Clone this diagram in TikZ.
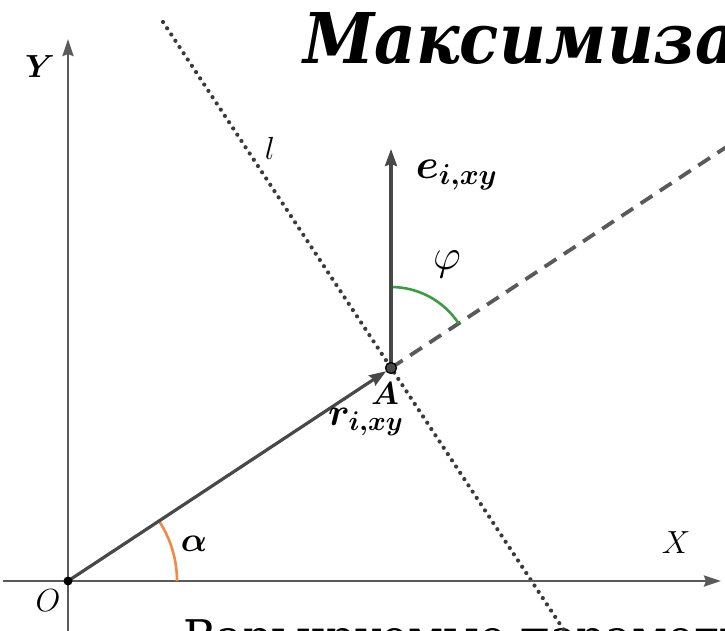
\documentclass[tikz,border=0pt]{standalone}
\usepackage{fontspec}
\usepackage{graphicx}
\usepackage{bm}
\usetikzlibrary{arrows.meta}
\newfontfamily\titlefont[FakeStretch=0.92]{DejaVu Serif}
\newfontfamily\bottomfont{DejaVu Serif}
\definecolor{axisgray}{HTML}{5A5A5A}
\definecolor{vecgray}{HTML}{484848}
\definecolor{dotgray}{HTML}{3A3A3A}
\definecolor{arcorange}{HTML}{F28A45}
\definecolor{arcgreen}{HTML}{3E9B45}
\newcommand{\biglbl}[2][1.85]{\scalebox{#1}{\LARGE #2}}
\tikzset{
  axisline/.style={draw=axisgray, line width=2.6pt, -{Stealth[length=17pt,width=11pt,inset=2pt]}},
  vecline/.style={draw=vecgray, line width=3.2pt, -{Stealth[length=17pt,width=12pt,inset=2pt]}},
  dottedline/.style={draw=dotgray, line width=4.2pt, line cap=round, dash pattern=on 0pt off 7.5pt},
  dashline/.style={draw=axisgray, line width=3.8pt, dash pattern=on 14pt off 9pt},
  lbl/.style={inner sep=0pt},
}
\begin{document}
\begin{tikzpicture}[x=1pt,y=1pt]
\useasboundingbox (0,0) rectangle (725,630);
\clip (0,0) rectangle (725,630);
% title and bottom text
\node[anchor=base west, inner sep=0pt, font=\titlefont\bfseries\itshape\fontsize{70}{80}\selectfont] (title) at (303,566) {Максимизация};
\node[anchor=base west, inner sep=0pt, font=\bottomfont\fontsize{45}{50}\selectfont] (bottom) at (183,-22) {Варьируемые параметры};
% coordinates
\coordinate (O) at (68,49);
\coordinate (Xs) at (3,49);
\coordinate (Xe) at (721,49);
\coordinate (Ys) at (68,-5);
\coordinate (Ye) at (68,591);
\coordinate (L1) at (163,608);
\coordinate (L2) at (577,-20);
\coordinate (D2) at (740,492);
\coordinate (E) at (391,481);
\node[circle, minimum size=11pt, inner sep=0pt] (A) at (391,262) {};
% lines
\draw[dottedline] (L1) -- (L2);
\draw[dashline] (A.center) -- (D2);
\draw[axisline] (Xs) -- (Xe);
\draw[axisline] (Ys) -- (Ye);
% arcs
\draw[arcorange, line width=2.6pt] ([shift={(0:109)}]O) arc[start angle=0, end angle=33.4, radius=109];
\draw[arcgreen, line width=2.6pt] ([shift={(90:81)}]A.center) arc[start angle=90, end angle=33.4, radius=81];
% vectors
\draw[vecline] (O) -- (A);
\draw[vecline] (A.center) -- (E);
% points
\fill[black] (O) circle[radius=4.5pt];
\node[circle, minimum size=11pt, inner sep=0pt, fill=vecgray, draw=black, line width=1.3pt] at (A) {};
% labels
\node[lbl] (lY) at (40,563) {\biglbl{$\bm{Y}$}};
\node[lbl] (lX) at (676,87) {\biglbl{$X$}};
\node[lbl] (lO) at (48,29) {\biglbl{$O$}};
\node[lbl] (lA) at (385,236) {\biglbl{$\bm{A}$}};
\node[lbl] (lr) at (366,208) {\biglbl[2.25]{$\bm{r}_{\bm{i,xy}}$}};
\node[lbl] (le) at (457,455) {\biglbl[2.4]{$\bm{e}_{\bm{i,xy}}$}};
\node[lbl] (lphi) at (447,366) {\biglbl[2.5]{$\varphi$}};
\node[lbl] (lalpha) at (194,86) {\biglbl[2.0]{$\bm{\alpha}$}};
\node[lbl] (ll) at (270,482) {\biglbl{$l$}};
\end{tikzpicture}
\end{document}
